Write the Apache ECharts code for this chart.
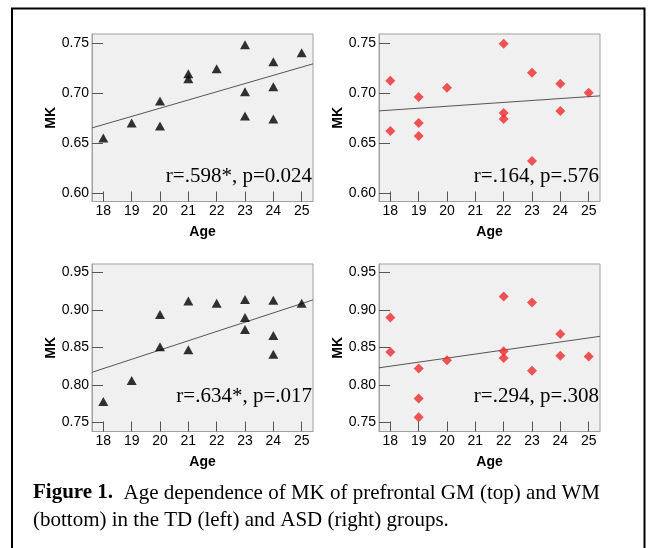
<!DOCTYPE html>
<html><head><meta charset="utf-8">
<script src="https://cdn.jsdelivr.net/npm/echarts@6/dist/echarts.min.js"></script>
<style>html,body{margin:0;padding:0;background:#fff}#c{width:650px;height:548px}</style>
</head><body><div id="c"></div>
<script>
// ---- data ----
const ageTicks = [18, 19, 20, 21, 22, 23, 24, 25];
const gmTicks = [0.60, 0.65, 0.70, 0.75];
const wmTicks = [0.75, 0.80, 0.85, 0.90, 0.95];

// TD group, prefrontal GM
const tdGmAge = [18, 19, 20, 20, 21, 21, 22, 23, 23, 23, 24, 24, 24, 25];
const tdGmMK  = [0.655, 0.670, 0.692, 0.667, 0.719, 0.714, 0.724, 0.748, 0.701, 0.677, 0.731, 0.706, 0.674, 0.740];
const tdGmFitAge = [17.6, 25.4];
const tdGmFitMK  = [0.665, 0.729];

// ASD group, prefrontal GM
const asdGmAge = [18, 18, 19, 19, 19, 20, 22, 22, 22, 23, 23, 24, 24, 25];
const asdGmMK  = [0.712, 0.662, 0.696, 0.670, 0.657, 0.705, 0.749, 0.680, 0.674, 0.720, 0.632, 0.709, 0.682, 0.700];
const asdGmFitAge = [17.6, 25.4];
const asdGmFitMK  = [0.682, 0.697];

// TD group, prefrontal WM
const tdWmAge = [18, 19, 20, 20, 21, 21, 22, 23, 23, 23, 24, 24, 24, 25];
const tdWmMK  = [0.778, 0.806, 0.894, 0.851, 0.912, 0.847, 0.909, 0.914, 0.890, 0.874, 0.913, 0.866, 0.841, 0.909];
const tdWmFitAge = [17.6, 25.4];
const tdWmFitMK  = [0.817, 0.9136];

// ASD group, prefrontal WM
const asdWmAge = [18, 18, 19, 19, 19, 20, 22, 22, 22, 23, 23, 24, 24, 25];
const asdWmMK  = [0.890, 0.844, 0.822, 0.782, 0.757, 0.833, 0.918, 0.845, 0.836, 0.910, 0.819, 0.868, 0.839, 0.838];
const asdWmFitAge = [17.6, 25.4];
const asdWmFitMK  = [0.823, 0.865];

const statTexts = ['r=.598*, p=0.024', 'r=.164, p=.576', 'r=.634*, p=.017', 'r=.294, p=.308'];
const captionBold = 'Figure 1.';
const captionLine1 = '  Age dependence of MK of prefrontal GM (top) and WM';
const captionLine2 = '(bottom) in the TD (left) and ASD (right) groups.';

// ---- build ----
const zip = (a, b) => a.map((v, i) => [v, b[i]]);
const panels = [
  {left: 92, top: 34, ymin: 0.5915, ymax: 0.7588, ticks: gmTicks, age: tdGmAge, mk: tdGmMK, fa: tdGmFitAge, fm: tdGmFitMK, sym: 'triangle', color: '#000', text: statTexts[0], base: 183.3},
  {left: 379, top: 34, ymin: 0.5915, ymax: 0.7588, ticks: gmTicks, age: asdGmAge, mk: asdGmMK, fa: asdGmFitAge, fm: asdGmFitMK, sym: 'diamond', color: '#ec2a2e', text: statTexts[1], base: 183},
  {left: 92, top: 264, ymin: 0.738, ymax: 0.9615, ticks: wmTicks, age: tdWmAge, mk: tdWmMK, fa: tdWmFitAge, fm: tdWmFitMK, sym: 'triangle', color: '#000', text: statTexts[2], base: 403.3},
  {left: 379, top: 264, ymin: 0.738, ymax: 0.9615, ticks: wmTicks, age: asdWmAge, mk: asdWmMK, fa: asdWmFitAge, fm: asdWmFitMK, sym: 'diamond', color: '#ec2a2e', text: statTexts[3], base: 403.3}
];
const W = 221, H = 167.5;
const font = 'Liberation Sans, Arial, sans-serif';
const serif = 'Liberation Serif, Times New Roman, serif';

const grid = [], xAxis = [], yAxis = [], series = [], graphic = [];
panels.forEach((p, i) => {
  grid.push({left: p.left, top: p.top, width: W, height: H, show: true, backgroundColor: '#f0f0f0', borderColor: '#a0a0a0', borderWidth: 1});
  xAxis.push({
    type: 'value', gridIndex: i, min: 17.6, max: 25.4,
    axisLine: {show: true, lineStyle: {color: '#a0a0a0'}},
    axisTick: {show: true, inside: true, length: 10, customValues: ageTicks, lineStyle: {color: '#555'}},
    axisLabel: {customValues: ageTicks, color: '#000', fontSize: 14, fontFamily: font, margin: 3},
    splitLine: {show: false},
    name: 'Age', nameLocation: 'middle', nameGap: 24,
    nameTextStyle: {fontWeight: 'bold', fontSize: 14, color: '#000', fontFamily: font}
  });
  yAxis.push({
    type: 'value', gridIndex: i, min: p.ymin, max: p.ymax,
    axisLine: {show: true, lineStyle: {color: '#a0a0a0'}},
    axisTick: {show: true, inside: true, length: 11, customValues: p.ticks, lineStyle: {color: '#555'}},
    axisLabel: {customValues: p.ticks, color: '#000', fontSize: 14, fontFamily: font, margin: 3, formatter: v => v.toFixed(2)},
    splitLine: {show: false},
    name: 'MK', nameLocation: 'middle', nameGap: 33,
    nameTextStyle: {fontWeight: 'bold', fontSize: 14, color: '#000', fontFamily: font}
  });
  series.push({
    type: 'line', xAxisIndex: i, yAxisIndex: i, data: zip(p.fa, p.fm),
    showSymbol: false, symbol: 'none', lineStyle: {color: '#555', width: 1}, silent: true, z: 2
  });
  series.push({
    type: 'scatter', xAxisIndex: i, yAxisIndex: i, data: zip(p.age, p.mk),
    symbol: p.sym, symbolSize: p.sym === 'triangle' ? [10, 9] : [10, 10],
    itemStyle: {color: p.color}, z: 3
  });
  graphic.push({
    type: 'text', x: p.left + W - 1, y: p.base - 7,
    style: {text: p.text, font: '21px ' + serif, fill: '#000', textAlign: 'right', textVerticalAlign: 'middle'}
  });
});

graphic.push({
  type: 'rect', shape: {x: 12, y: 8.5, width: 632.5, height: 600},
  style: {fill: 'none', stroke: '#000', lineWidth: 2}
});
graphic.push({
  type: 'text', x: 33, y: 493,
  style: {
    text: '{b|' + captionBold + '}{n|' + captionLine1 + '}',
    rich: {
      b: {font: 'bold 21px ' + serif, fill: '#000'},
      n: {font: '21px ' + serif, fill: '#000'}
    },
    textVerticalAlign: 'middle'
  }
});
graphic.push({
  type: 'text', x: 33, y: 520,
  style: {text: captionLine2, font: '21px ' + serif, fill: '#000', textVerticalAlign: 'middle'}
});

const chart = echarts.init(document.getElementById('c'), null, {renderer: 'canvas'});
chart.setOption({animation: false, backgroundColor: '#fff', grid, xAxis, yAxis, series, graphic});
</script></body></html>
